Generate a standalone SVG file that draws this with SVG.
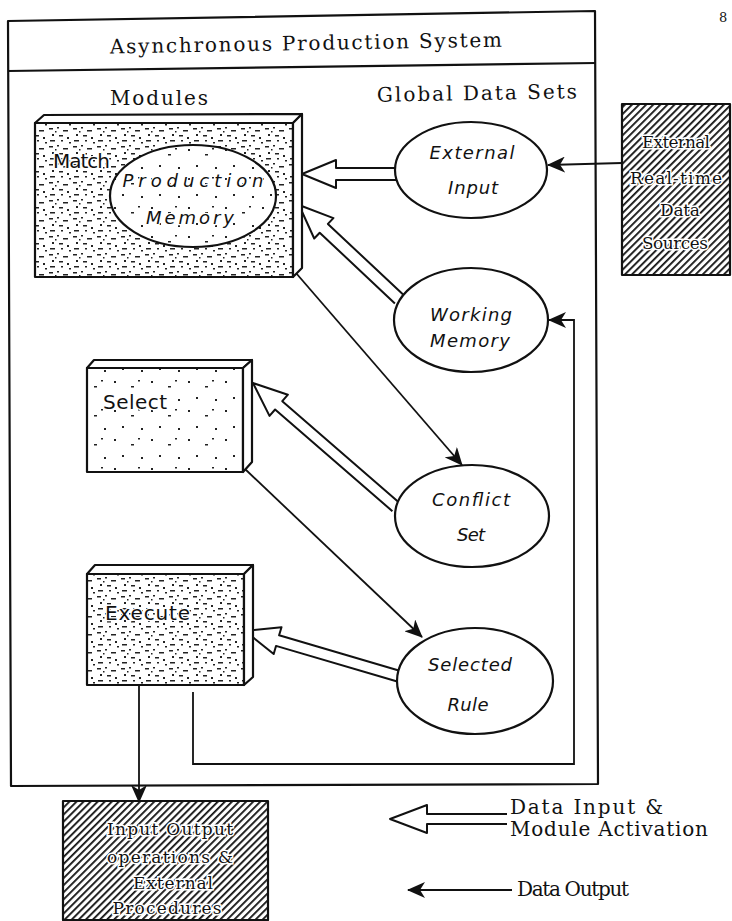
<svg xmlns="http://www.w3.org/2000/svg" width="732" height="921" viewBox="0 0 732 921">
<defs>
<style>
.ln{fill:none;stroke:#111;stroke-width:2.2;stroke-linejoin:round}
.box{stroke:#111;stroke-width:2.2;stroke-linejoin:round}
.bev{fill:#fff;stroke:#111;stroke-width:2.2;stroke-linejoin:round}
.ell{stroke:#111;stroke-width:2.2}
.hol{fill:#fff;stroke:#111;stroke-width:2;stroke-linejoin:round}
.con{fill:none;stroke:#111;stroke-width:1.8}
.it{font-family:"DejaVu Sans",sans-serif;font-style:italic;font-size:18px;fill:#111;text-anchor:middle}
.up{font-family:"DejaVu Sans",sans-serif;font-size:20px;fill:#111;stroke:#fff;stroke-width:2.5;paint-order:stroke}
.sf{font-family:"DejaVu Serif","Liberation Serif",serif;font-size:20px;fill:#111}
.ht{font-family:"DejaVu Serif","Liberation Serif",serif;font-size:17px;fill:#111;text-anchor:middle;stroke:#fff;stroke-width:3;paint-order:stroke}
</style>
<pattern id="stD" width="24" height="18" patternUnits="userSpaceOnUse">
<rect width="24" height="18" fill="#fff"/>
<path d="M1,2h4v1.6h-4z M9,1h2v1.6h-2z M15,4h5v1.6h-5z M4,8h2v2h-2z M11,9h4v1.6h-4z M19,11h2v2h-2z M2,14h5v1.6h-5z M13,14h2v1.6h-2z M7,5h1.5v1.5h-1.5z M21,16h2v1.5h-2z" fill="#222"/>
</pattern>
<pattern id="stS" width="37" height="29" patternUnits="userSpaceOnUse">
<rect width="37" height="29" fill="#fff"/>
<path d="M3,4h2v2h-2z M20,9h3v1.6h-3z M11,20h2v2h-2z M30,22h2v2h-2z M27,3h2v1.6h-2z" fill="#222"/>
</pattern>
<pattern id="hat" width="5" height="5" patternUnits="userSpaceOnUse" patternTransform="rotate(45)">
<rect width="5" height="5" fill="#fff"/><rect width="1.8" height="5" fill="#111"/>
</pattern>
<marker id="ah" viewBox="0 0 18 16" markerWidth="18" markerHeight="16" refX="17" refY="8" orient="auto" markerUnits="userSpaceOnUse">
<path d="M0,0 L18,8 L0,16 L5,8 Z" fill="#111"/>
</marker>
</defs>
<rect width="732" height="921" fill="#fff"/>

<g id="system-frame">
<path class="ln" d="M8,21 L595,11 L598,784 L11,786 Z"/>
<path class="ln" d="M8,71 L596,63"/>
<text class="sf" x="110" y="50" font-size="22" textLength="392" transform="rotate(-1,306,46)">Asynchronous Production System</text>
<text class="sf" x="110" y="105" font-size="21" textLength="98">Modules</text>
<text class="sf" x="377" y="100" font-size="21" textLength="200" transform="rotate(-1,477,95)">Global Data Sets</text>
</g>
<text x="719" y="22" font-family="DejaVu Serif,serif" font-size="13" fill="#111">8</text>

<g id="connectors">
<path class="hol" d="M396,168 L336,168 L336,160 L302,174 L336,188 L336,180 L396,180"/>
<path class="hol" d="M403.1,294.6 L327.9,223.9 L333.4,218.1 L299,205 L314.2,238.5 L319.7,232.7 L394.9,303.4"/>
<path class="hol" d="M399.6,502.9 L282.3,401.2 L287.9,394.7 L253,383 L269.5,415.9 L275.1,409.5 L392.4,511.2"/>
<path class="hol" d="M399.6,670.7 L279.1,635.3 L281.5,627.2 L245,631 L273.7,654 L276,645.9 L396.4,681.3"/>
<path class="con" d="M622,163 L548,165" marker-end="url(#ah)"/>
<path class="con" d="M296,273 L462,465" marker-end="url(#ah)"/>
<path class="con" d="M245,469 L422,637" marker-end="url(#ah)"/>
<path class="con" d="M193,692 V764 H574 V320 H549" marker-end="url(#ah)"/>
<path class="con" d="M139,686 V802" marker-end="url(#ah)"/>
</g>

<g id="match">
<rect class="box" x="35" y="123" width="258" height="154" fill="url(#stD)"/>
<path class="bev" d="M35,123 L44,115 L302,114 L293,123 Z"/>
<path class="bev" d="M293,123 L302,114 L302,268 L293,277 Z"/>
<text class="up" x="53" y="168" textLength="57">Match</text>
<g id="production-memory">
<ellipse class="ell" cx="193" cy="196" rx="83" ry="51" fill="url(#stS)"/>
<text class="it" x="193" y="187" font-size="22" textLength="141" style="stroke:#fff;stroke-width:2.5;paint-order:stroke">Production</text>
<text class="it" x="190" y="224" font-size="22" textLength="88" style="stroke:#fff;stroke-width:2.5;paint-order:stroke">Memory</text>
</g>
</g>

<g id="select">
<rect class="box" x="87" y="368" width="156" height="104" fill="url(#stS)"/>
<path class="bev" d="M87,368 L94,360 L252,360 L243,368 Z"/>
<path class="bev" d="M243,368 L252,360 L252,462 L243,472 Z"/>
<text class="up" x="103" y="409" textLength="64">Select</text>
</g>

<g id="execute">
<rect class="box" x="87" y="574" width="157" height="111" fill="url(#stD)"/>
<path class="bev" d="M87,574 L95,565 L253,565 L244,574 Z"/>
<path class="bev" d="M244,574 L253,565 L253,677 L244,685 Z"/>
<text class="up" x="105" y="620" textLength="85">Execute</text>
</g>

<g id="external-input">
<ellipse class="ell" cx="471" cy="170" rx="76" ry="48" fill="#fff"/>
<text class="it" x="472" y="159" textLength="85">External</text>
<text class="it" x="473" y="194" textLength="50">Input</text>
</g>

<g id="working-memory">
<ellipse class="ell" cx="471" cy="320" rx="77" ry="52" fill="#fff"/>
<text class="it" x="471" y="321" textLength="82">Working</text>
<text class="it" x="470" y="347" textLength="80">Memory</text>
</g>

<g id="conflict-set">
<ellipse class="ell" cx="472" cy="516" rx="77" ry="51" fill="#fff"/>
<text class="it" x="471" y="506" textLength="78">Conflict</text>
<text class="it" x="471" y="541" textLength="28">Set</text>
</g>

<g id="selected-rule">
<ellipse class="ell" cx="475" cy="681" rx="78" ry="53" fill="#fff"/>
<text class="it" x="470" y="671" textLength="84">Selected</text>
<text class="it" x="468" y="711" textLength="41">Rule</text>
</g>

<g id="external-sources">
<rect class="box" x="622" y="104" width="108" height="171" fill="url(#hat)"/>
<text class="ht" x="676" y="148" textLength="68">External</text>
<text class="ht" x="676" y="184" textLength="92">Real-time</text>
<text class="ht" x="680" y="216" textLength="40">Data</text>
<text class="ht" x="675" y="249" textLength="66">Sources</text>
</g>

<g id="io-procedures">
<rect class="box" x="63" y="801" width="205" height="119" fill="url(#hat)"/>
<text class="ht" x="170" y="835" textLength="126">Input Output</text>
<text class="ht" x="170" y="863" textLength="126">operations &amp;</text>
<text class="ht" x="173" y="889" textLength="80">External</text>
<text class="ht" x="167" y="914" textLength="109">Procedures</text>
</g>

<g id="legend">
<path class="hol" d="M507,814 L427,814 L427,805 L390,819 L427,833 L427,824 L507,824"/>
<text class="sf" x="510" y="814" font-size="18" textLength="153">Data Input &amp;</text>
<text class="sf" x="510" y="836" font-size="18" textLength="198">Module Activation</text>
<path class="con" d="M512,890 H408" marker-end="url(#ah)"/>
<text class="sf" x="517" y="896" font-size="18" textLength="112">Data Output</text>
</g>
</svg>
